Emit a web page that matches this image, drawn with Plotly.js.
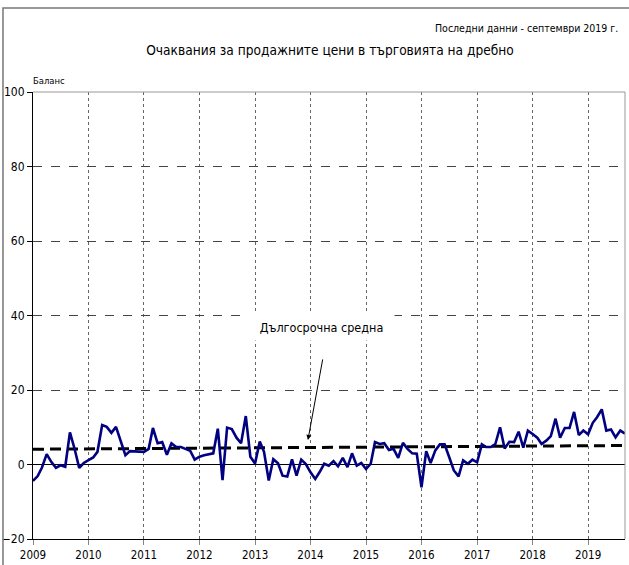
<!DOCTYPE html>
<html>
<head>
<meta charset="utf-8">
<script src="https://cdn.plot.ly/plotly-3.0.1.min.js"></script>
<style>html,body{margin:0;padding:0;background:#fff;}#chart{width:629px;height:565px;}</style>
</head>
<body>
<div id="chart"></div>
<script>
// Monthly balance, Jan 2009 - Sep 2019
var startYear = 2009;
var balance = [
 -4.4,-3.1,-0.8,2.8,0.7,-0.9,-0.2,-0.6,8.6,4.3,-0.9,0.4,
 1.2,1.9,3.4,10.6,10.1,8.5,10.1,6.5,2.5,3.6,3.6,3.6,
 3.4,4.2,9.8,5.7,6.0,2.6,5.7,4.7,4.7,4.2,3.7,1.3,
 2.1,2.5,2.7,3.0,9.6,-4.2,9.9,9.5,7.2,5.7,13.0,2.1,
 0.3,6.2,3.4,-4.3,1.4,0.3,-3.0,-3.2,1.4,-3.0,1.3,0.1,
 -2.1,-3.9,-2.1,0.2,-0.3,0.9,-0.5,1.8,-0.7,3.0,-0.3,0.4,
 -1.2,0.2,6.0,5.5,5.7,3.9,4.2,1.8,5.8,4.2,3.0,2.9,
 -6.1,3.6,0.4,3.8,5.4,5.4,2.0,-1.6,-3.2,1.1,0.2,1.3,
 0.6,5.4,4.7,4.7,5.5,10.0,4.3,6.1,6.0,8.8,4.5,9.1,
 8.2,7.2,5.5,6.4,7.6,12.3,7.2,9.8,9.8,14.1,7.9,9.1,
 8.1,11.2,12.7,14.8,9.1,9.4,7.3,9.1,8.3
];
var avgDates = ['2009-01-01','2019-09-01'];
var avgValues = [4.1, 5.1];
var yTicks = [-20,0,20,40,60,80,100];

var titleText = 'Очаквания за продажните цени в търговията на дребно';
var subtitleText = 'Последни данни - септември 2019 г.';
var yLabel = 'Баланс';
var avgLabel = 'Дългосрочна средна';

var dates = balance.map(function(v,i){
  var y = startYear + Math.floor(i/12), m = (i%12)+1;
  return y + '-' + (m<10?'0':'') + m + '-01';
});

var FONT = 'DejaVu Sans Condensed, Liberation Sans Narrow, sans-serif';

var traces = [
  {x: avgDates, y: avgValues, type:'scatter', mode:'lines',
   line:{color:'#000', width:3, dash:'11px,6px'}, hoverinfo:'skip'},
  {x: dates, y: balance, type:'scatter', mode:'lines',
   line:{color:'#000080', width:2.6}}
];

var layout = {
  width:629, height:565,
  margin:{l:33, r:4, t:92, b:26},
  paper_bgcolor:'#fff', plot_bgcolor:'#fff',
  showlegend:false,
  font:{family:FONT, size:12, color:'#000'},
  title:{text:titleText, font:{family:FONT, size:13.6, color:'#000'},
         xref:'paper', x:(330-33)/592, xanchor:'center', yref:'container', y:1-50/565, yanchor:'middle'},
  xaxis:{type:'date', range:['2009-01-01','2019-09-01'], tick0:'2009-01-01', dtick:'M12',
         tickformat:'%Y', showgrid:true, gridcolor:'#666', griddash:'dot', gridwidth:1,
         ticks:'outside', ticklen:5, tickcolor:'#888', showline:true, linecolor:'#000', linewidth:1,
         zeroline:false, tickfont:{family:FONT, size:11.5}},
  yaxis:{range:[-20,100], tickvals:yTicks, showgrid:true, gridcolor:'#444', griddash:'dash', gridwidth:1,
         ticks:'outside', ticklen:5, tickcolor:'#000', showline:true, linecolor:'#000', linewidth:1,
         zeroline:true, zerolinecolor:'#000', zerolinewidth:1, tickfont:{family:FONT, size:12}},
  shapes:[
    {type:'line', xref:'paper', yref:'paper', x0:0, x1:1, y0:1, y1:1, line:{color:'#999', width:1}},
    {type:'line', xref:'paper', yref:'paper', x0:1, x1:1, y0:0, y1:1, line:{color:'#999', width:1}},
    {type:'rect', xref:'paper', yref:'paper', x0:-0.0507, x1:1.05, y0:-0.2, y1:1.188, line:{color:'#777', width:1.5}}
  ],
  annotations:[
    {text:subtitleText, xref:'paper', yref:'paper', x:0.9916, y:1+(92-28)/447, xanchor:'right', yanchor:'middle',
     showarrow:false, font:{family:FONT, size:10.5}},
    {text:yLabel, xref:'paper', yref:'paper', x:-0.003, y:1+(92-80)/447, xanchor:'left', yanchor:'middle',
     showarrow:false, font:{family:FONT, size:9.4}},
    {text:avgLabel, xref:'paper', yref:'y', x:(321-33)/592, y:36.9, xanchor:'center', yanchor:'middle',
     showarrow:false, bgcolor:'#fff', width:143, height:24, font:{family:FONT, size:12.5}},
    {text:'', xref:'x', yref:'y', x:'2013-12-15', y:6.6, axref:'pixel', ayref:'pixel', ax:15, ay:-82,
     showarrow:true, arrowhead:2, arrowsize:1, arrowwidth:1, arrowcolor:'#000', standoff:0}
  ]
};

Plotly.newPlot('chart', traces, layout, {displayModeBar:false, staticPlot:true});
</script>
</body>
</html>
